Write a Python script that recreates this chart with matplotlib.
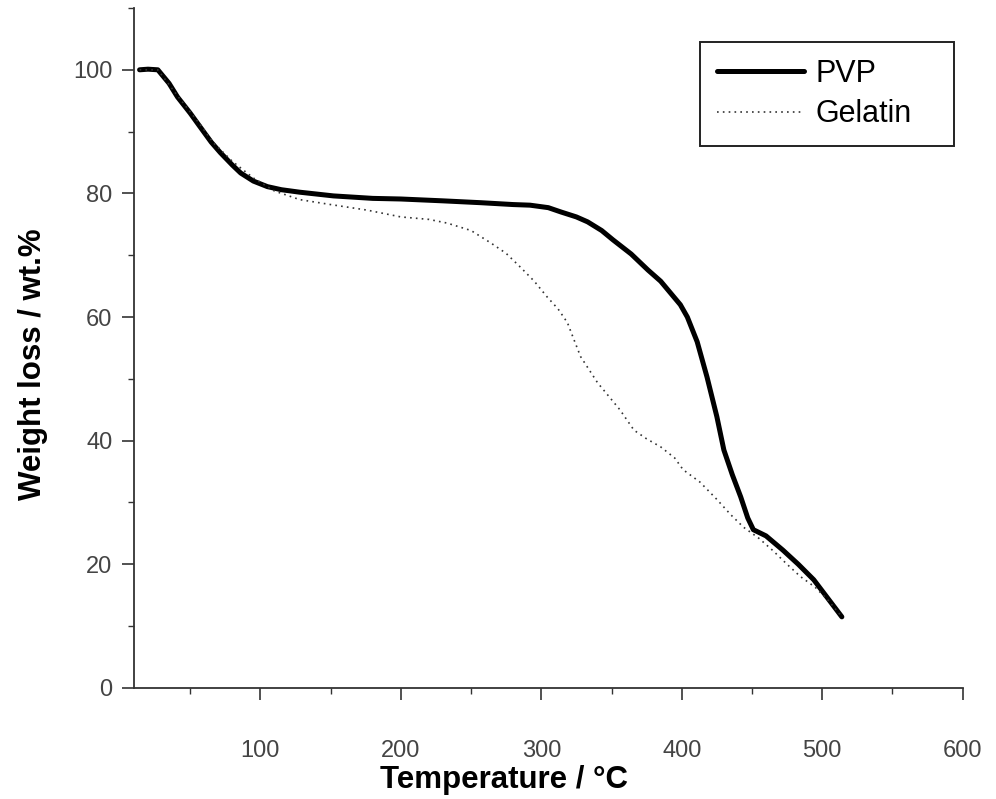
import matplotlib
matplotlib.use("Agg")
import matplotlib.pyplot as plt
from matplotlib.ticker import MultipleLocator

# TGA curves
pvp_temp = [14, 20, 27, 35, 41, 50, 57, 65, 71.5, 80, 86, 95, 105, 115, 128,
            152, 180, 200, 230, 257, 280, 292, 305, 314, 325, 333, 343, 351,
            364, 376, 385, 392, 399, 404, 411, 418, 425, 430, 436, 442, 447,
            451, 460, 472, 483, 494, 504, 514]
pvp_weight = [100, 100.1, 100, 97.8, 95.6, 93, 90.8, 88.3, 86.6, 84.6, 83.3,
              82, 81.1, 80.6, 80.2, 79.6, 79.2, 79.1, 78.8, 78.5, 78.2, 78.1,
              77.7, 77.0, 76.2, 75.4, 74, 72.5, 70.2, 67.6, 65.8, 63.9, 62,
              60.0, 56, 50.3, 43.9, 38.5, 34.5, 30.9, 27.5, 25.6, 24.6, 22.3,
              20, 17.5, 14.5, 11.5]

gel_temp = [14, 27, 41, 57, 66.5, 80, 95, 110, 128, 150, 176, 200, 220, 233,
            250, 264, 275, 285, 295, 304, 312, 318.6, 323, 328, 334, 340, 348,
            356, 366, 375, 385, 395, 401, 413, 425, 435, 444, 455, 465, 475,
            484.6, 495, 505, 514]
gel_weight = [100, 100, 95.8, 91.2, 88.2, 85.2, 82.5, 80.4, 79, 78.2, 77.3,
              76.2, 75.8, 75.2, 74, 72, 70.3, 68.1, 65.8, 63.3, 61.3, 59.1,
              56.5, 53.6, 51.5, 49.4, 47.2, 45, 41.7, 40.3, 39, 37.2, 35.3,
              33.3, 30.5, 28, 26.0, 24.2, 22.2, 20, 18, 16.3, 14, 11.5]

plt.rcParams['font.family'] = ['Liberation Sans', 'DejaVu Sans']

fig = plt.figure(figsize=(9.96, 7.99), dpi=100)
ax = fig.add_axes([0.1345, 0.139, 0.832, 0.851])

ax.plot(pvp_temp, pvp_weight, color='black', lw=3.6, label='PVP',
        solid_capstyle='round', solid_joinstyle='round')
ax.plot(gel_temp, gel_weight, color='#333333', lw=1.2,
        linestyle=(0, (1, 2.5)), label='Gelatin')

ax.set_xlim(10, 600)
ax.set_ylim(0, 110)
ax.xaxis.set_major_locator(MultipleLocator(100))
ax.xaxis.set_minor_locator(MultipleLocator(50))
ax.yaxis.set_major_locator(MultipleLocator(20))
ax.yaxis.set_minor_locator(MultipleLocator(10))

for s in ['top', 'right']:
    ax.spines[s].set_visible(False)
for s in ['left', 'bottom']:
    ax.spines[s].set_color('#333333')
    ax.spines[s].set_linewidth(1.3)

ax.tick_params(which='major', direction='out', length=8.5, width=1.2,
               color='#333333', labelsize=17, labelcolor='#444444', pad=7)
ax.tick_params(which='minor', direction='out', length=4, width=1.0,
               color='#333333')
ax.tick_params(axis='x', which='major', pad=29)

ax.set_xlabel('Temperature / °C', fontsize=22.5, fontweight='bold')
ax.set_ylabel('Weight loss / wt.%', fontsize=22.5, fontweight='bold')
ax.xaxis.set_label_coords(0.446, -0.113)
ax.yaxis.set_label_coords(-0.104, 0.476)

# box stretched to the reference width; extra room ends up on the right
leg = ax.legend(loc='upper left', bbox_to_anchor=(0.6836, 0.5, 0.3056, 0.45),
                mode='expand', borderaxespad=0, fancybox=False,
                edgecolor='#222222', framealpha=1, fontsize=22,
                handlelength=2.85, handletextpad=0.35, borderpad=0.55,
                labelspacing=0.35)
leg.get_frame().set_linewidth(1.4)

fig.savefig('out.png', dpi=100)
